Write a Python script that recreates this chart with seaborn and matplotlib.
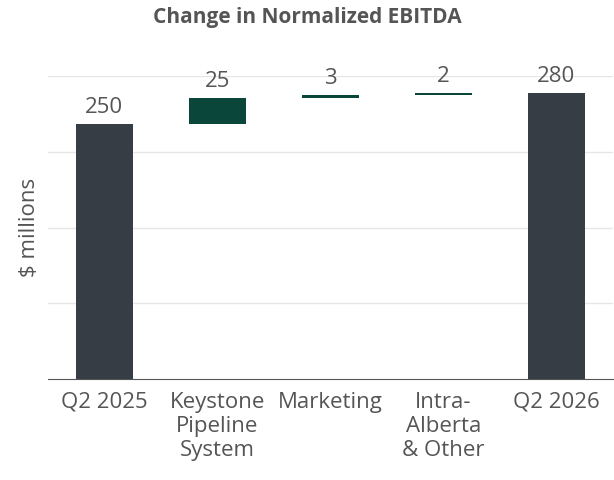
import numpy as np
import pandas as pd
import matplotlib
matplotlib.use("Agg")
import matplotlib.pyplot as plt
import seaborn as sns

categories = ["Q2 2025", "Keystone\nPipeline\nSystem", "Marketing", "Intra-\nAlberta\n& Other", "Q2 2026"]
changes = [250, 25, 3, 2, 280]
labels = ["250", "25", "3", "2", "280"]
is_total = [True, False, False, False, True]

sns.set_style("white")
plt.rcParams["font.family"] = ["Open Sans", "DejaVu Sans"]

# waterfall: bottoms for the delta bars
bottoms, heights = [], []
running = 0
for v, tot in zip(changes, is_total):
    if tot:
        bottoms.append(0); heights.append(v); running = v
    else:
        bottoms.append(running); heights.append(v); running += v
df = pd.DataFrame({"cat": categories, "top": np.add(bottoms, heights), "bottom": bottoms})
colors = ["#343d47" if t else "#00503f" for t in is_total]

fig, ax = plt.subplots(figsize=(6.14, 4.80), dpi=100)
fig.subplots_adjust(left=0.078, right=0.998, top=0.842, bottom=0.21)

sns.barplot(data=df, x="cat", y="top", palette=colors, hue="cat", legend=False,
            width=0.5, ax=ax, zorder=2, linewidth=0)
for i, b in enumerate(is_total):
    if not b:
        ax.patches[i].set_y(bottoms[i])
        ax.patches[i].set_height(heights[i])

for i in range(len(categories)):
    ax.text(i, df["top"][i] + 6, labels[i], ha="center", va="bottom",
            fontsize=16, color="#555555")

top = 297
ax.set_ylim(0, top)
ax.set_yticks([top / 4, top / 2, top * 3 / 4, top])
ax.set_yticklabels([])
ax.tick_params(axis="y", length=0)
ax.grid(axis="y", color="#e6e6e6", lw=1, zorder=0)
ax.set_axisbelow(True)
ax.tick_params(axis="x", length=7, pad=2, color="#555555", labelsize=16, labelcolor="#555555")
for s in ["top", "right", "left"]:
    ax.spines[s].set_visible(False)
ax.spines["bottom"].set_color("#555555")
ax.set_xlabel("")
ax.set_ylabel("$ millions", fontsize=16, color="#555555", labelpad=2)
fig.suptitle("Change in Normalized EBITDA", fontsize=15, fontweight="bold",
             color="#555555", y=0.985)
fig.savefig("out.png", dpi=100)
